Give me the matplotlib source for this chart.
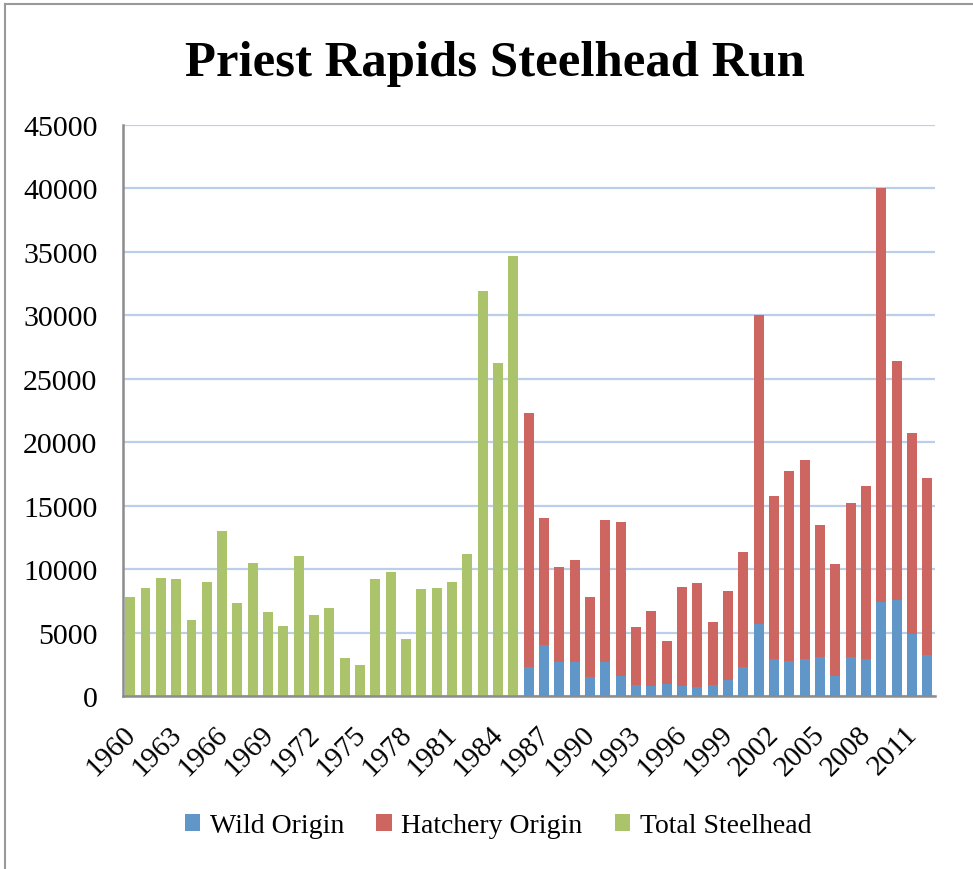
import numpy as np
import matplotlib.pyplot as plt
from matplotlib.lines import Line2D
from matplotlib.transforms import ScaledTranslation

# Total run, 1960-1985 (no origin split)
total_years = list(range(1960, 1986))
total_run = [7800, 8500, 9300, 9250, 6000, 9000, 13000, 7350, 10500, 6600,
             5500, 11050, 6400, 6950, 3000, 2450, 9250, 9800, 4500, 8400,
             8500, 9000, 11200, 31900, 26250, 34650]

# Wild / hatchery split, 1986-2012
split_years = list(range(1986, 2013))
wild = [2300, 4000, 2650, 2650, 1500, 2700, 1550, 850, 800, 950,
        800, 700, 850, 1300, 2300, 5650, 2900, 2750, 2900, 3050,
        1600, 3050, 2950, 7400, 7600, 4850, 3250]
hatchery = [20000, 10000, 7550, 8050, 6300, 11200, 12150, 4550, 5900, 3350,
            7800, 8200, 4950, 6950, 9050, 24350, 12900, 14950, 15700, 10400,
            8800, 12150, 13600, 32600, 18800, 15900, 13900]

years = total_years + split_years
tick_years = years[::3]

blue = '#6096c8'
red = '#cd6560'
green = '#abc46c'
grid_col = '#bccfea'

plt.rcParams['font.family'] = ['Liberation Serif', 'DejaVu Serif']

fig = plt.figure(figsize=(9.73, 8.70), dpi=100)
ax = fig.add_axes([122.5 / 973, 1 - 697 / 870, (935 - 122.5) / 973, (697 - 126) / 870])

xi = {y: i for i, y in enumerate(years)}
w = 0.65
ax.bar([xi[y] for y in split_years], wild, w, color=blue, label='Wild Origin', zorder=3)
ax.bar([xi[y] for y in split_years], hatchery, w, bottom=wild, color=red,
       label='Hatchery Origin', zorder=3)
ax.bar([xi[y] for y in total_years], total_run, w, color=green,
       label='Total Steelhead', zorder=3)

ax.set_xlim(-0.5, len(years) - 0.5)
ax.set_ylim(0, 45000)
ax.set_yticks(np.arange(0, 45001, 5000))
ax.set_yticklabels([str(v) for v in range(0, 45001, 5000)], fontsize=21.5)
ax.set_xticks([xi[y] for y in tick_years])
ax.set_xticklabels([str(y) for y in tick_years], fontsize=21, rotation=45,
                   ha='right', va='top', rotation_mode='anchor')
ax.tick_params(axis='both', length=0)
ax.tick_params(axis='y', pad=18)
ax.tick_params(axis='x', pad=14)
# nudge the rotated labels so their ends sit just right of each tick
shift = ScaledTranslation(-8 / 100, -5 / 100, fig.dpi_scale_trans)
for lab in ax.get_xticklabels():
    lab.set_transform(lab.get_transform() + shift)

ax.grid(axis='y', color=grid_col, linewidth=1.6, zorder=0)
for s in ['top', 'right']:
    ax.spines[s].set_visible(False)
for s in ['left', 'bottom']:
    ax.spines[s].set_color('#8c8c8c')
    ax.spines[s].set_linewidth(1.8)
    ax.spines[s].set_zorder(4)

fig.text(495 / 973, 1 - 64 / 870, 'Priest Rapids Steelhead Run', fontsize=36.5,
         fontweight='bold', ha='center', va='center')

fig.legend(loc='center', bbox_to_anchor=(498 / 973, 1 - 827 / 870), ncol=3,
           frameon=False, fontsize=20, handlelength=0.55, handleheight=0.55,
           handletextpad=0.35, columnspacing=1.15)

# outer chart border (top and left edges visible)
fig.add_artist(Line2D([5 / 973, 1], [1 - 4.5 / 870, 1 - 4.5 / 870], color='#999999', lw=1.5))
fig.add_artist(Line2D([5 / 973, 5 / 973], [0, 1 - 4.5 / 870], color='#999999', lw=1.5))

fig.savefig('out.png', dpi=100)
